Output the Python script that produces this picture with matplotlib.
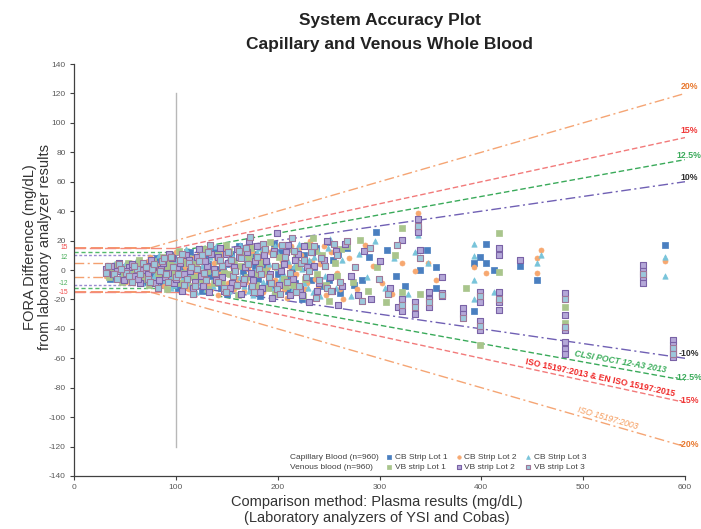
import numpy as np
import matplotlib
matplotlib.use("Agg")
import matplotlib.pyplot as plt
from matplotlib.lines import Line2D

plt.rcParams['font.family'] = ['Liberation Sans', 'DejaVu Sans']
plt.rcParams['axes.unicode_minus'] = False

# ---------------- data ----------------
cb_lot1 = [(32,0),(38,-4),(45,2),(52,-6),(58,3),(63,-2),(68,-8),(72,5),(77,-3),(81,8),(86,-10),(90,1),(94,-5),(97,10),(102,-12),(106,4),(110,-7),(114,12),(118,-2),(122,6),(126,-14),(130,9),(134,-4),(138,14),(142,-9),(146,2),(150,-16),(154,11),(158,-6),(162,16),(166,-1),(170,7),(174,-12),(178,3),(183,-18),(187,13),(191,-8),(196,18),(200,-3),(205,8),(210,-14),(214,1),(219,11),(224,-20),(228,5),(233,-7),(238,15),(243,-11),(248,19),(254,6.8),(261,-15.6),(268,15),(275,-10),(283,-6.8),(290,9),(297,26),(307,13.6),(316,-4),(325,-11),(340,0),(347,13.6),(355,2),(355,-12),(393,5),(393,-28),(399,9),(405,18),(405,4.5),(412,0),(438,3),(455,-6.8),(580,17),
           (35,-6),(41,1),(48,-1),(55,4),(61,-4),(66,1),(75,-1),(79,-7),(83,4),(92,7),(100,-2),(108,0),(116,-4),(120,9),(128,-8),(132,4),(140,1),(144,-12),(152,4),(156,-3),(164,9),(168,-5),(176,11),(181,-6),(189,2),(194,-10),(203,12),(208,-6),(217,-9),(226,10),(236,2),(250,-7),(259,11)]
cb_lot2 = [(35,-2),(41,3),(48,-5),(55,1),(60,-7),(66,4),(71,-1),(75,9),(80,-6),(84,3),(88,-11),(93,7),(96,-3),(100,12),(105,-8),(109,2),(113,-13),(117,8),(121,-5),(125,15),(129,1),(133,-10),(137,5),(141,-17),(145,11),(149,-2),(153,7),(157,-13),(161,3),(165,13),(169,-8),(173,18),(177,-4),(181,9),(186,-15),(190,2),(195,14),(199,-10),(204,6),(209,-19),(213,16),(218,-3),(223,10),(227,-13),(232,20),(237,-6),(242,4),(247,-17),(252,12),(258,-2),(264,-20),(270,8),(278,-13),(286,17),(294,3),(302,-9),(312,-16),(322,4.5),(335,-1),(338,38.6),(348,5),(355,-7),(393,2),(405,-2),(459,13.6),(455,-2),(455,8),(580,6.3),
           (31,-4),(38,2),(44,-1),(51,-8),(57,5),(63,-1),(69,-5),(73,6),(78,0),(82,-4),(86,9),(91,-7),(99,1),(103,-4),(107,9),(111,-12),(115,5),(119,-2),(123,11),(127,-7),(131,5),(135,-13),(139,8),(143,-3),(147,14),(151,-9),(155,3),(160,-6),(163,10),(167,-14),(171,1),(175,13),(179,-11),(184,6),(188,-3),(192,12),(197,-7),(202,17),(206,-13),(211,3),(216,-5),(221,15),(229,-9),(234,6),(240,-12),(245,16),(256,5),(261,-13)]
cb_lot3 = [(37,1),(43,-6),(50,4),(56,-3),(61,6),(67,-9),(73,2),(79,-4),(83,10),(87,-7),(91,4),(95,-12),(99,7),(103,-1),(107,11),(111,-9),(116,3),(120,-15),(124,12),(127,-3),(131,7),(136,-11),(139,16),(144,-6),(147,4),(152,-14),(156,9),(159,-1),(163,17),(167,-11),(171,5),(176,-17),(180,12),(184,-2),(188,8),(193,-12),(197,16),(202,-6),(207,10),(211,-17),(216,3),(221,18),(226,-9),(231,7),(235,-15),(240,13),(246,-4),(251,21),(257,-12),(263,7),(272,-18),(280,11),(288,-5),(296,20),(305,-12),(314,8),(328,-16),(335,12.5),(338,23.8),(340,9),(348,5),(393,18),(393,9.5),(393,-6.8),(393,-20),(412,-15),(455,4.5),(459,10),(580,9),(580,-4),
           (33,-1),(39,4),(46,-3),(53,0),(58,-6),(64,2),(70,-4),(76,5),(81,-9),(85,0),(89,7),(94,-4),(98,-10),(102,4),(106,-6),(110,14),(114,-2),(118,7),(122,-9),(126,3),(130,-13),(134,9),(138,-5),(142,12),(146,-2),(150,6),(155,-10),(159,14),(163,-5),(168,8),(172,-14),(178,-1),(182,15),(186,-8),(191,4),(196,-14),(200,11),(205,-2),(210,6),(215,-13),(219,14),(224,1),(230,-12),(236,9),(242,-18),(249,15)]
vb_lot1 = [(34,-5),(40,2),(47,-8),(53,5),(59,-1),(64,7),(69,-4),(74,-10),(78,6),(82,-2),(87,9),(91,-13),(95,3),(99,-7),(103,13),(108,-2),(112,8),(116,-11),(120,4),(124,-6),(128,14),(132,-13),(136,1),(140,10),(145,-8),(149,17),(153,-3),(157,6),(161,-17),(166,11),(170,-5),(174,15),(179,-10),(183,5),(188,-1),(192,19),(197,-16),(201,9),(206,-6),(211,14),(215,-10),(220,2),(225,-18),(229,17),(235,21.7),(239,-3),(244,10),(250,-21),(256,5),(262,14),(268,16),(274,-8),(281,20.4),(289,-14),(298,2),(306,-22),(315,10),(322,28.6),(322,-15),(340,-16),(385,-12),(399,-51),(417,25),(417,-1.4),(482,-25),(482,-36),(559,-2),
           (36,0),(43,4),(49,-2),(56,-6),(62,3),(67,-1),(72,-6),(80,3),(85,-5),(89,2),(94,6),(98,-2),(104,-9),(109,5),(114,1),(118,-5),(126,9),(131,-1),(137,-9),(142,6),(147,-2),(152,13),(159,-11),(164,3),(172,9),(177,-3),(186,11),(190,-12),(199,2),(208,-11),(218,8),(227,-6),(237,13),(247,-10),(258,-4)]
vb_lot2 = [(36,3),(42,-1),(49,-7),(54,2),(60,-4),(65,-9),(70,3),(76,7),(80,-9),(85,1),(89,-5),(93,11),(98,-9),(101,2),(106,-14),(110,10),(114,-1),(119,-8),(123,14),(127,-11),(131,3),(135,11),(139,-7),(143,15),(147,-14),(151,5),(155,-9),(160,14),(164,-16),(168,2),(172,20),(176,-7),(180,16),(185,-12),(189,6),(194,-19),(199,25),(203,-1),(208,12),(212,-17),(217,7),(222,-13),(226,16),(231,-22),(236,3),(241,-9),(248,20),(253,-14),(259,-24),(266,18),(272,-4),(279,-17),(285,13),(292,-20),(300,6),(310,-12),(318,-25),(322,20.4),(322,-20),(322,-28),(335,-21.5),(335,-30),(338,34.5),(338,28.6),(338,26),(340,13.6),(349,-15),(349,-20),(349,-25),(361,-4.5),(361,-15.6),(361,-18),(382,-26),(382,-30),(399,-15),(399,-21.5),(399,-35),(399,-41),(417,15),(417,10),(417,-15),(417,-22),(417,-27),(438,6.8),(482,-15.6),(482,-30.6),(482,-41),(482,-48.8),(482,-54),(482,-57),(559,3.4),(559,-1),(559,-5),(559,-9),(588,-47.6),(588,-51),(588,-55),(588,-59),
           (31,1),(38,-3),(44,5),(51,-1),(57,4),(63,-6),(68,0),(73,-3),(78,2),(83,-7),(87,5),(92,-2),(96,8),(100,-6),(104,5),(108,-3),(113,7),(117,-12),(121,9),(125,-4),(129,6),(133,-15),(137,1),(141,9),(145,-5),(149,11),(153,-12),(157,2),(162,9),(166,-9),(170,12),(174,-2),(178,6),(183,-15),(187,10),(192,-3),(196,13),(201,-10),(206,4),(210,17),(215,-6),(220,11),(224,-17),(229,2),(234,12),(239,-14),(245,7),(251,-5),(257,13),(263,-11)]
vb_lot3 = [(39,-3),(44,4),(51,-2),(57,-8),(62,1),(68,5),(73,-6),(77,1),(82,-12),(86,6),(90,-3),(95,9),(100,-5),(104,7),(108,-10),(113,5),(117,-16),(121,1),(126,10),(130,-7),(134,17),(138,-2),(143,7),(147,-12),(151,12),(156,-4),(160,-10),(164,8),(169,15),(173,22.6),(177,-15),(182,1),(186,18),(191,-5),(195,11),(199,-13),(204,17),(209,-8),(214,22),(218,-15),(223,5),(228,-5),(233,12),(238,-19),(243,8),(248,-12),(255,18),(261,-8),(268,20),(276,2),(283,-21),(291,15),(299,-6),(308,-16),(317,17),(322,-24),(335,-25),(338,30),(340,8),(349,-22),(361,-17),(382,-32.6),(399,-18),(399,-38),(417,-20),(482,-20),(482,-38.5),(559,-3),(588,-53),(588,-57),
           (31,-2),(33,3),(42,-6),(46,1),(54,-4),(59,3),(65,-3),(71,2),(75,-8),(79,4),(84,-1),(88,8),(92,-8),(97,2),(102,-3),(106,11),(111,-6),(115,2),(119,-11),(123,6),(128,-2),(132,12),(141,-8),(145,3),(149,-15),(154,7),(158,-1),(162,13),(167,-6),(171,4),(175,-11),(180,9),(184,-3),(188,14),(193,-9),(197,3),(202,-16),(207,9),(212,-2),(216,13),(221,-11),(226,7),(231,-1),(236,16),(241,-7),(246,3),(252,-14),(258,10)]

series_labels = ["CB Strip Lot 1", "CB Strip Lot 2", "CB Strip Lot 3",
                 "VB strip Lot 1", "VB strip Lot 2", "VB strip Lot 3"]
group_labels = ["Capillary Blood (n=960)", "Venous blood (n=960)"]

# acceptance limits
pct_levels = [20, 15, 12.5, 10]
abs_levels = [15, 15, 12, 10]
cutoffs = [75, 100, 100, 100]
inner_band = 5
x_max = 600
standards = ["ISO 15197:2003", "ISO 15197:2013 & EN ISO 15197:2015", "CLSI POCT 12-A3 2013"]

# ---------------- figure ----------------
fig = plt.figure(figsize=(7.01, 5.29), dpi=100)
ax = fig.add_axes([0.1056, 0.1002, 0.8716, 0.7788])
ax.set_xlim(0, 600)
ax.set_ylim(-140, 140)
ax.set_xticks(np.arange(0, 601, 100))
ax.set_yticks(np.arange(-140, 141, 20))
for s in ['top', 'right']:
    ax.spines[s].set_visible(False)
for s in ['left', 'bottom']:
    ax.spines[s].set_color('#404040')
    ax.spines[s].set_linewidth(0.9)
ax.tick_params(axis='both', direction='out', length=3, width=0.8, colors='#404040',
               labelsize=6, labelcolor='#595959', pad=3)

# vertical reference line at 100 mg/dL
ax.plot([100, 100], [-120, 120], color='#b8b8b8', lw=1.0, zorder=1)

slope_styles = [
    dict(color='#f5a574', ls=(0, (7, 2.5, 1.5, 2.5)), lw=1.0),
    dict(color='#f27a7a', ls=(0, (4, 2)), lw=1.0),
    dict(color='#3aaa5a', ls=(0, (4, 2)), lw=1.0),
    dict(color='#7060b4', ls=(0, (7, 2.5, 1.5, 2.5)), lw=1.0),
]
hstyles = [
    dict(color='#f47a42', ls=(0, (8, 3)), lw=1.1),
    dict(color='#f48a7a', ls=(0, (8, 3)), lw=1.0),
    dict(color='#52b86a', ls=(0, (3, 2)), lw=1.0),
    dict(color='#9a8ad0', ls=(0, (2, 1.5)), lw=1.0),
]
for p, a, c, st, hs in zip(pct_levels, abs_levels, cutoffs, slope_styles, hstyles):
    for sign in (1, -1):
        ax.plot([c, x_max], [sign * p / 100 * c, sign * p / 100 * x_max], zorder=2, **st)
        ax.plot([0, c], [sign * a, sign * a], zorder=2, **hs)
for sign in (1, -1):
    ax.plot([0, 100], [sign * inner_band, sign * inner_band], color='#f4a070',
            ls=(0, (7, 2.5, 1.5, 2.5)), lw=1.0, zorder=2)

# scatter series
marker_styles = [
    dict(marker='s', s=14, facecolor='#4a7fc0', edgecolor='#4a7fc0', linewidths=0.5),
    dict(marker='o', s=13, facecolor='#f7a870', edgecolor='#f7a870', linewidths=0.5),
    dict(marker='^', s=15, facecolor='#78c4da', edgecolor='#78c4da', linewidths=0.5),
    dict(marker='s', s=14, facecolor='#a9c58c', edgecolor='#a9c58c', linewidths=0.5),
    dict(marker='s', s=14, facecolor='#b4a8d8', edgecolor='#7a62a6', linewidths=0.8),
    dict(marker='s', s=14, facecolor='#9cc8dc', edgecolor='#a07898', linewidths=0.8),
]
all_series = [cb_lot1, cb_lot2, cb_lot3, vb_lot1, vb_lot2, vb_lot3]
handles = []
for data, lab, ms in zip(all_series, series_labels, marker_styles):
    arr = np.array(data, dtype=float)
    h = ax.scatter(arr[:, 0], arr[:, 1], label=lab, zorder=3, **ms)
    handles.append(h)

# percentage labels at the right
pct_label_colors = ['#e8782e', '#f03838', '#3aaa5a', '#303030']
pct_label_pos = [(604, 124.5), (604, 94.6), (604, 77.6), (604, 62.6)]
neg_label_pos = [(604, -118.4), (604, -88.4), (603, -72.8), (604, -56.5)]
for p, col, pp, npos in zip(pct_levels, pct_label_colors, pct_label_pos, neg_label_pos):
    ax.text(pp[0], pp[1], f"{p:g}%", color=col, fontsize=6.3, fontweight='bold',
            ha='center', va='center', clip_on=False)
    ax.text(npos[0], npos[1], f"-{p:g}%", color=col, fontsize=6.3, fontweight='bold',
            ha='center', va='center', clip_on=False)

# small labels left of the axis
for val, col, yy in [(15, '#f04848', 15.5), (12, '#4cae5c', 8.5), (-12, '#4cae5c', -9), (-15, '#f04848', -15)]:
    ax.text(-6, yy, f"{val}", color=col, fontsize=4.8, ha='right', va='center', clip_on=False)

# standard names along the negative lines
def angle_of(p):
    p1 = ax.transData.transform((100, -p / 100 * 100))
    p2 = ax.transData.transform((600, -p / 100 * 600))
    return np.degrees(np.arctan2(p2[1] - p1[1], p2[0] - p1[0]))

ax.text(523.6, -100.7, standards[0], color='#f59a5a', fontsize=6.2, rotation=angle_of(20),
        ha='center', va='center', rotation_mode='anchor', style='italic')
ax.text(517, -73.5, standards[1], color='#f02828', fontsize=6.2, rotation=angle_of(15),
        ha='center', va='center', rotation_mode='anchor', fontweight='bold')
ax.text(536, -62.6, standards[2], color='#3cae5c', fontsize=6.2, rotation=angle_of(12.5),
        ha='center', va='center', rotation_mode='anchor', fontweight='bold', style='italic')

# legend
blank = Line2D([], [], linestyle='none', marker=None)
leg_handles = [blank, blank, handles[0], handles[3], handles[1], handles[4], handles[2], handles[5]]
leg_labels = [group_labels[0], group_labels[1], series_labels[0], series_labels[3],
              series_labels[1], series_labels[4], series_labels[2], series_labels[5]]
fig.legend(leg_handles, leg_labels, ncol=4, loc='lower left', bbox_to_anchor=(0.393, 0.098),
           frameon=False, fontsize=6, handlelength=0.6, handletextpad=0.4, columnspacing=1.0,
           labelspacing=0.25, borderpad=0.2, markerscale=0.7, labelcolor='#404040')

# titles and axis labels
fig.text(0.556, 0.962, "System Accuracy Plot", ha='center', va='center',
         fontsize=12.5, fontweight='bold', color='#222222')
fig.text(0.556, 0.915, "Capillary and Venous Whole Blood", ha='center', va='center',
         fontsize=12.5, fontweight='bold', color='#222222')
fig.text(0.054, 0.533, "FORA Difference (mg/dL)\nfrom laboratory analyzer results", ha='center',
         va='center', rotation=90, fontsize=10.5, color='#333333', linespacing=1.1)
fig.text(0.538, 0.036, "Comparison method: Plasma results (mg/dL)\n(Laboratory analyzers of YSI and Cobas)",
         ha='center', va='center', fontsize=10.5, color='#333333', linespacing=1.15)

fig.savefig("out.png", dpi=100)
